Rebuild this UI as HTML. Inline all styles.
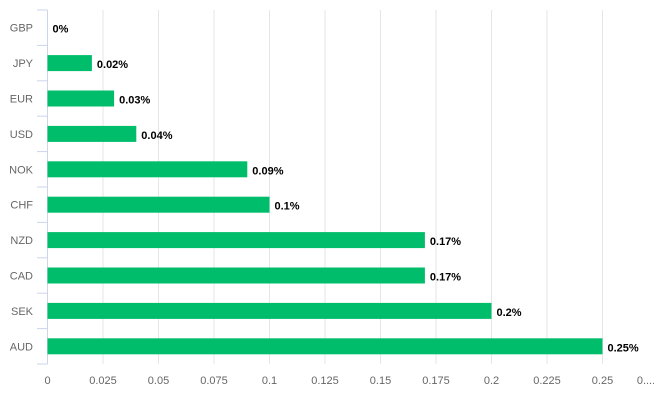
<!DOCTYPE html>
<html><head><meta charset="utf-8"><style>
body{margin:0;background:#fff;font-family:"Liberation Sans",sans-serif}
</style></head><body>
<svg id="c" width="654" height="402" xmlns="http://www.w3.org/2000/svg"></svg>
<script>
const categories=["GBP","JPY","EUR","USD","NOK","CHF","NZD","CAD","SEK","AUD"];
const values=[0,0.02,0.03,0.04,0.09,0.1,0.17,0.17,0.2,0.25];
const valueLabels=["0%","0.02%","0.03%","0.04%","0.09%","0.1%","0.17%","0.17%","0.2%","0.25%"];
const ticks=[0,0.025,0.05,0.075,0.1,0.125,0.15,0.175,0.2,0.225,0.25,0.275];
const tickLabels=["0","0.025","0.05","0.075","0.1","0.125","0.15","0.175","0.2","0.225","0.25","0...."];
const svg=document.getElementById('c');
const NS="http://www.w3.org/2000/svg";
const x0=47.5,plotTop=10,plotBottom=364;
const x=v=>x0+v*2220;
const band=(plotBottom-plotTop)/categories.length;
const y=i=>plotTop+band*i+band/2;
function mk(t,a){const e=document.createElementNS(NS,t);for(const k in a)e.setAttribute(k,a[k]);svg.appendChild(e);return e;}
ticks.forEach((t,i)=>{
 if(i>0){const g=mk('line',{x1:x(t),x2:x(t),y1:plotTop,y2:plotBottom,stroke:'#e6e6e6','stroke-width':1});
 
 }
 const l=mk('text',{x:i===ticks.length-1?x(t)-12:x(t),y:384,'text-anchor':'middle','font-size':11,fill:'#666'});
 l.textContent=tickLabels[i];
 
 
});
const ax=mk('line',{x1:x0,x2:x0,y1:plotTop,y2:plotBottom,stroke:'#ccd6eb','stroke-width':1});


for(let i=0;i<=categories.length;i++){
 const ty=plotTop+band*i;
 const tk=mk('line',{x1:37,x2:x0,y1:ty,y2:ty,stroke:'#ccd6eb','stroke-width':1});
 
 
}
categories.forEach((c,i)=>{
 const cy=y(i);
 const t=mk('text',{x:33,y:cy+4,'text-anchor':'end','font-size':11,fill:'#666'});
 t.textContent=c;
 
 
 const w=x(values[i])-x0;
 const b=mk('rect',{x:x0,y:cy-8,width:Math.max(w,0),height:16,fill:'#00bd6b'});
 
 
 const v=mk('text',{x:x(values[i])+5,y:cy+5,'font-size':11,'font-weight':'bold',fill:'#000'});
 v.textContent=valueLabels[i];
 
 
});
</script>
</body></html>
